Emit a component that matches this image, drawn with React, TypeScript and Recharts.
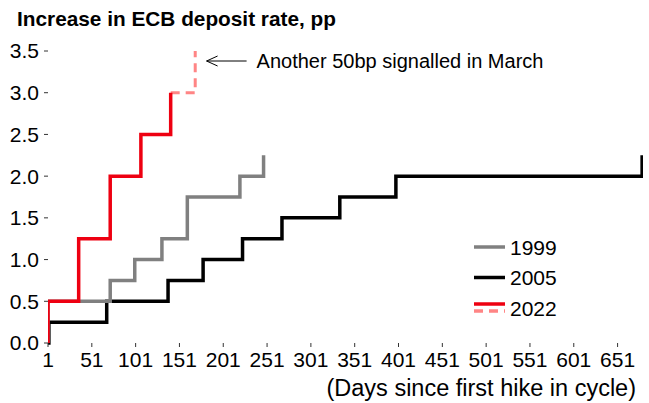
import { LineChart, Line, XAxis, YAxis, ReferenceDot } from "recharts"

const xTicks = [1, 51, 101, 151, 201, 251, 301, 351, 401, 451, 501, 551, 601, 651]
const yTicks = [0, 0.5, 1, 1.5, 2, 2.5, 3, 3.5]

// business days since first hike, and cumulative increase (pp)
const days1999 = [1, 1, 72, 100, 131, 160, 220, 247]
const rate1999 = [0, 0.5, 0.75, 1.0, 1.25, 1.75, 2.0, 2.25]

const days2005 = [1, 2, 68, 138, 178, 223, 268, 334, 398, 679]
const rate2005 = [0, 0.25, 0.5, 0.75, 1.0, 1.25, 1.5, 1.75, 2.0, 2.25]

const days2022 = [1, 1, 36, 72, 107, 141]
const rate2022 = [0, 0.5, 1.25, 2.0, 2.5, 3.0]

const daysSignalled = [141, 169]
const rateSignalled = [3.0, 3.5]

const zip = (d: number[], v: number[]) => d.map((day, i) => ({ day, value: v[i] }))

const data1999 = zip(days1999, rate1999)
const data2005 = zip(days2005, rate2005)
const data2022 = zip(days2022, rate2022)
const dataSignalled = zip(daysSignalled, rateSignalled)

const font = "'Liberation Sans', Arial, sans-serif"

const legendItems = [
  { label: "1999", color: "#808080" },
  { label: "2005", color: "#000000" },
  { label: "2022", color: "#ee0011", dashed: "#ff8585" },
]

function ChartLegend() {
  return (
    <svg width={110} height={95} style={{ fontFamily: font, display: "block" }}>
      {legendItems.map((it, i) => {
        const y = 12 + i * 30.5
        return (
          <g key={it.label}>
            {it.dashed ? (
              <>
                <line x1={0} x2={31} y1={y - 4} y2={y - 4} stroke={it.color} strokeWidth={3.5} />
                <line x1={0} x2={31} y1={y + 3} y2={y + 3} stroke={it.dashed} strokeWidth={3.5} strokeDasharray="9 6" />
              </>
            ) : (
              <line x1={0} x2={31} y1={y} y2={y} stroke={it.color} strokeWidth={3.5} />
            )}
            <text x={36} y={y} dominantBaseline="central" fontSize={21} fill="#000">
              {it.label}
            </text>
          </g>
        )
      })}
    </svg>
  )
}

function Annotation(props: any) {
  const { cx, cy } = props
  return (
    <g>
      <line x1={cx} x2={cx + 40} y1={cy} y2={cy} stroke="#000" strokeWidth={1} />
      <polyline points={`${cx + 11},${cy - 5} ${cx},${cy} ${cx + 11},${cy + 5}`} fill="none" stroke="#000" strokeWidth={1} />
      <text x={cx + 50} y={cy} dominantBaseline="central" fontSize={20} fill="#000" fontFamily={font}>
        Another 50bp signalled in March
      </text>
    </g>
  )
}

export default function App() {
  return (
    <div style={{ position: "absolute", left: 0, top: 0, width: 649, height: 403, background: "#fff", fontFamily: font }}>
      <div style={{ position: "absolute", left: 17, top: 7, fontSize: 20.8, fontWeight: "bold", color: "#000" }}>
        Increase in ECB deposit rate, pp
      </div>
      <div style={{ position: "absolute", left: 474, top: 235 }}>
        <ChartLegend />
      </div>
      <LineChart width={649} height={403} margin={{ top: 51, right: 6, left: 0, bottom: 0 }}>
        <XAxis
          type="number"
          dataKey="day"
          domain={[1, 680]}
          ticks={xTicks}
          interval={0}
          axisLine={false}
          tickSize={4}
          tickMargin={5}
          tickLine={{ stroke: "#333" }}
          tick={{ fill: "#000", fontSize: 21, fontFamily: font }}
          height={60}
          allowDataOverflow
          label={{ value: "(Days since first hike in cycle)", position: "insideBottomRight", offset: 7, fill: "#000", fontSize: 23.5, fontFamily: font }}
        />
        <YAxis
          type="number"
          domain={[0, 3.5]}
          ticks={yTicks}
          interval={0}
          width={48}
          axisLine={false}
          tickSize={4}
          tickMargin={5}
          tickLine={{ stroke: "#333" }}
          tickFormatter={(v: number) => v.toFixed(1)}
          tick={{ fill: "#000", fontSize: 21, fontFamily: font }}
        />
        <Line data={data2005} dataKey="value" type="stepAfter" stroke="#000000" strokeWidth={3.5} dot={false} isAnimationActive={false} />
        <Line data={data1999} dataKey="value" type="stepAfter" stroke="#808080" strokeWidth={3.5} dot={false} isAnimationActive={false} />
        <Line data={dataSignalled} dataKey="value" type="stepAfter" stroke="#ff8585" strokeWidth={3} strokeDasharray="9 6" dot={false} isAnimationActive={false} />
        <Line data={data2022} dataKey="value" type="stepAfter" stroke="#ee0011" strokeWidth={3.5} dot={false} isAnimationActive={false} />
        <ReferenceDot x={182} y={3.38} r={0} shape={<Annotation />} />
      </LineChart>
    </div>
  )
}
